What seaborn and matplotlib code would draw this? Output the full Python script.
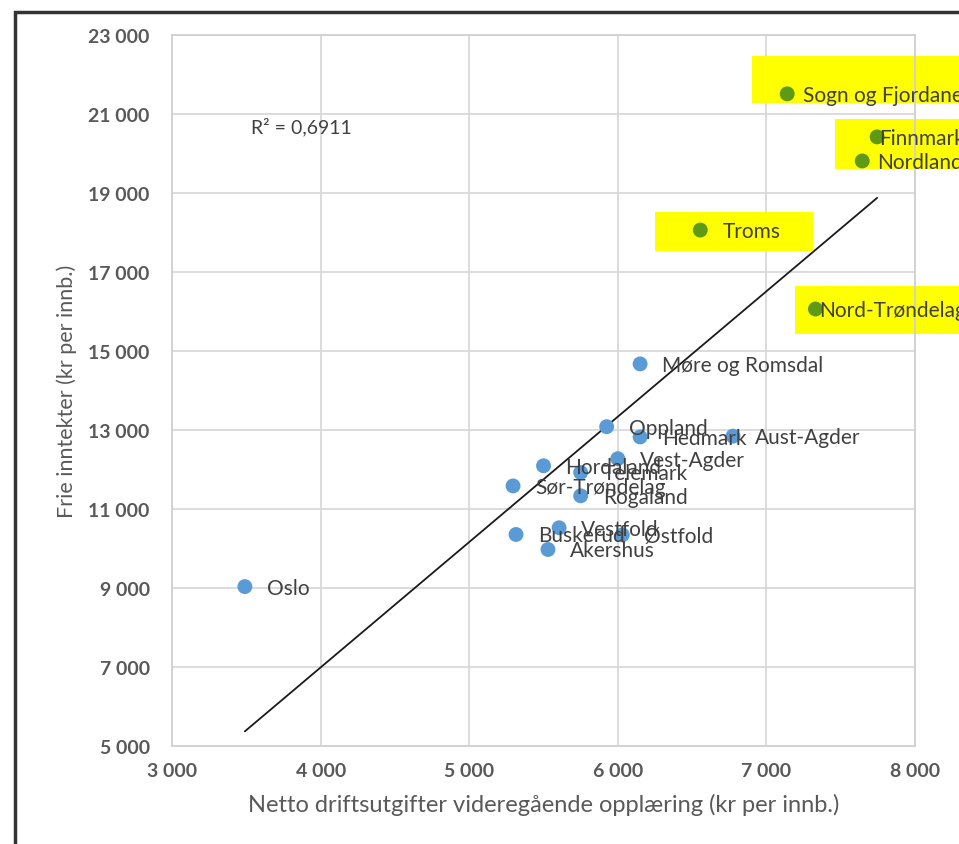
import numpy as np
import pandas as pd
import seaborn as sns
import matplotlib.pyplot as plt
from matplotlib.patches import Rectangle
from matplotlib.ticker import FuncFormatter

# data
counties = ["Østfold", "Akershus", "Oslo", "Hedmark", "Oppland", "Buskerud",
            "Vestfold", "Telemark", "Aust-Agder", "Vest-Agder", "Rogaland",
            "Hordaland", "Sogn og Fjordane", "Møre og Romsdal", "Sør-Trøndelag",
            "Nord-Trøndelag", "Nordland", "Troms", "Finnmark"]
netto_vgo = [6030, 5530, 3490, 6150, 5925, 5315, 5605, 5750, 6775, 6000,
             5750, 5500, 7140, 6150, 5295, 7330, 7645, 6555, 7745]
frie_inntekter = [10340, 9970, 9030, 12820, 13080, 10350, 10520, 11920, 12840,
                  12270, 11330, 12090, 21510, 14670, 11580, 16060, 19810, 18060, 20420]
highlighted = ["Sogn og Fjordane", "Nord-Trøndelag", "Nordland", "Troms", "Finnmark"]

df = pd.DataFrame({"county": counties, "x": netto_vgo, "y": frie_inntekter})
df["group"] = np.where(df["county"].isin(highlighted), "nord", "sor")

sns.set_theme(style="white")
plt.rcParams["font.family"] = ["Lato", "DejaVu Sans"]

fig = plt.figure(figsize=(9.59, 8.45), dpi=100)
ax = fig.add_axes([0.1794, 0.1163, 0.9541 - 0.1794, 0.9574 - 0.1163])

# yellow marker-pen highlights behind the northern counties
yellow_boxes = [(6903, 21278, 8330, 22468), (7462, 19608, 8330, 20873),
                (6250, 17532, 7314, 18519), (7192, 15430, 8330, 16646)]
for x0, y0, x1, y1 in yellow_boxes:
    ax.add_patch(Rectangle((x0, y0), x1 - x0, y1 - y0, facecolor="#FFFF00",
                           edgecolor="none", zorder=1, clip_on=False))

sns.regplot(data=df, x="x", y="y", scatter=False, ci=None, truncate=True, ax=ax,
            line_kws={"color": "#1a1a1a", "lw": 1.3, "zorder": 2})
sns.scatterplot(data=df, x="x", y="y", hue="group",
                palette={"sor": "#5B9BD5", "nord": "#5E9A16"},
                s=115, edgecolor="none", legend=False, ax=ax, zorder=3)

# label offsets in pixels (most are placed right of the point)
label_dx = {"Sogn og Fjordane": 16, "Finnmark": 2, "Nordland": 15, "Nord-Trøndelag": 4}
for _, r in df.iterrows():
    ax.annotate(r["county"], (r["x"], r["y"]), xytext=(label_dx.get(r["county"], 22), -1),
                textcoords="offset pixels", ha="left", va="center", fontsize=15,
                color="#404040", zorder=4, annotation_clip=False)

ax.text(3530, 20700, "R² = 0,6911", fontsize=14, color="#404040", va="center")

ax.set_xlim(3000, 8000)
ax.set_ylim(5000, 23000)
ax.set_xticks(range(3000, 8001, 1000))
ax.set_yticks(range(5000, 23001, 2000))
fmt = FuncFormatter(lambda v, p: f"{int(v):,}".replace(",", " "))
ax.xaxis.set_major_formatter(fmt)
ax.yaxis.set_major_formatter(fmt)
ax.tick_params(axis="both", length=0, labelsize=14, colors="#595959")
ax.tick_params(axis="y", pad=16)
ax.tick_params(axis="x", pad=12)
for lab in ax.get_xticklabels() + ax.get_yticklabels():
    lab.set_fontweight("bold")
ax.grid(True, color="#D9D9D9", lw=1.3)
for sp in ax.spines.values():
    sp.set_color("#D0D0D0")
    sp.set_linewidth(1.3)

ax.set_xlabel("Netto driftsutgifter videregående opplæring (kr per innb.)",
              fontsize=17, color="#595959", labelpad=10)
ax.set_ylabel("Frie inntekter (kr per innb.)", fontsize=15.5, color="#595959", labelpad=8)

# outer frame, cut off at the right and bottom like the screenshot
fig.patches.append(Rectangle((15 / 959, -0.2), 2, 1.2 - 13 / 845, transform=fig.transFigure,
                             fill=False, edgecolor="#333333", lw=2.5))

fig.savefig("out.png", dpi=100)
